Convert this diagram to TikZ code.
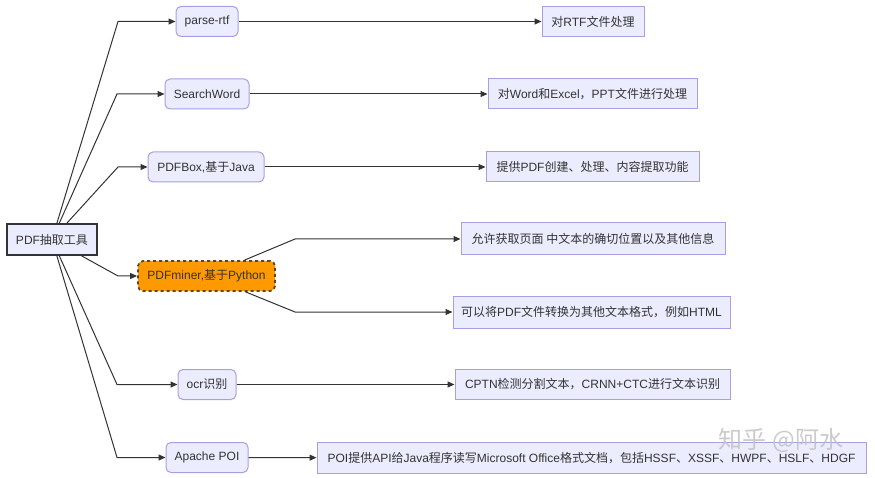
\documentclass[tikz,border=0pt]{standalone}
\usepackage{fontspec}
\setmainfont{Liberation Sans}
\newfontfamily\cjkfont{Noto Sans CJK SC}
\newcommand\zh[1]{{\cjkfont #1}}
\usetikzlibrary{arrows.meta}
\definecolor{nodefill}{HTML}{ECECFF}
\definecolor{nodeline}{HTML}{AA9DE2}
\definecolor{ink}{HTML}{333333}
\definecolor{orangefill}{HTML}{FF9900}
\definecolor{hotline}{HTML}{5A4630}
\begin{document}
\begin{tikzpicture}[x=1pt,y=-1pt,
  font=\fontsize{12}{14}\selectfont,
  base/.style={draw=nodeline, fill=nodefill, line width=1pt, text=ink, inner sep=0pt, minimum height=30pt},
  tool/.style={base, rounded corners=5pt},
  info/.style={base},
  rootbox/.style={base, draw=ink, line width=1.8pt, minimum height=31pt},
  hot/.style={base, fill=orangefill, draw=hotline, line width=1.8pt, rounded corners=5pt, dash pattern=on 3pt off 3pt},
  link/.style={draw=ink, line width=1pt, -{Triangle[length=7pt,width=6pt]}},
  wmark/.style={text=black!25, opacity=0.8, font=\fontsize{24}{26}\selectfont}]
\useasboundingbox (0,0) rectangle (875,478);
\fill[white] (0,0) rectangle (875,478);

% root
\node[rootbox, minimum width=90pt] (root) at (52,239.5) {PDF\zh{抽取工具}};

% middle column
\node[tool, minimum width=62pt] (n1) at (207,21.5) {parse-rtf};
\node[tool, minimum width=84pt] (n2) at (207,94) {SearchWord};
\node[tool, minimum width=116pt] (n3) at (206,167) {PDFBox,\zh{基于}Java};
\node[hot, minimum width=137pt] (n4) at (206.5,276) {PDFminer,\zh{基于}Python};
\node[tool, minimum width=58pt] (n5) at (207,384.5) {ocr\zh{识别}};
\node[tool, minimum width=82pt] (n6) at (207,457.5) {Apache POI};

% right column
\node[info, minimum width=102pt] (r1) at (593,21.5) {\zh{对}RTF\zh{文件处理}};
\node[info, minimum width=209pt] (r2) at (592.5,94) {\zh{对}Word\zh{和}Excel\zh{，}PPT\zh{文件进行处理}};
\node[info, minimum width=213pt] (r3) at (592.5,167) {\zh{提供}PDF\zh{创建、处理、内容提取功能}};
\node[info, minimum width=264pt, minimum height=32pt] (r4) at (593,239) {\zh{允许获取页面 中文本的确切位置以及其他信息}};
\node[info, minimum width=277pt, minimum height=32pt] (r5) at (591.5,312) {\zh{可以将}PDF\zh{文件转换为其他文本格式，例如}HTML};
\node[info, minimum width=275pt] (r6) at (592.5,384.5) {CPTN\zh{检测分割文本，}CRNN+CTC\zh{进行文本识别}};
\node[info, minimum width=549pt, minimum height=31pt] (r7) at (591.5,458) {POI\zh{提供}API\zh{给}Java\zh{程序读写}Microsoft Office\zh{格式文档，包括}HSSF\zh{、}XSSF\zh{、}HWPF\zh{、}HSLF\zh{、}HDGF};

% bend points
\coordinate (b1) at (118,21.5);
\coordinate (b2) at (117,94);
\coordinate (b3) at (118,167);
\coordinate (b4) at (118,276);
\coordinate (b5) at (117,384.5);
\coordinate (b6) at (117,457.5);
\coordinate (c1) at (295,239);
\coordinate (c2) at (295,312);

% connectors from root
\draw[link] (root) -- (b1) -- (n1);
\draw[link] (root) -- (b2) -- (n2);
\draw[link] (root) -- (b3) -- (n3);
\draw[link] (root) -- (b4) -- (n4);
\draw[link] (root) -- (b5) -- (n5);
\draw[link] (root) -- (b6) -- (n6);

% connectors to details
\draw[link] (n1) -- (r1);
\draw[link] (n2) -- (r2);
\draw[link] (n3) -- (r3);
\draw[link] (n4) -- (c1) -- (r4);
\draw[link] (n4) -- (c2) -- (r5);
\draw[link] (n5) -- (r6);
\draw[link] (n6) -- (r7);

% watermark
\node[wmark] (wm) at (781,440) {\zh{知乎 @阿水}};
\end{tikzpicture}
\end{document}
